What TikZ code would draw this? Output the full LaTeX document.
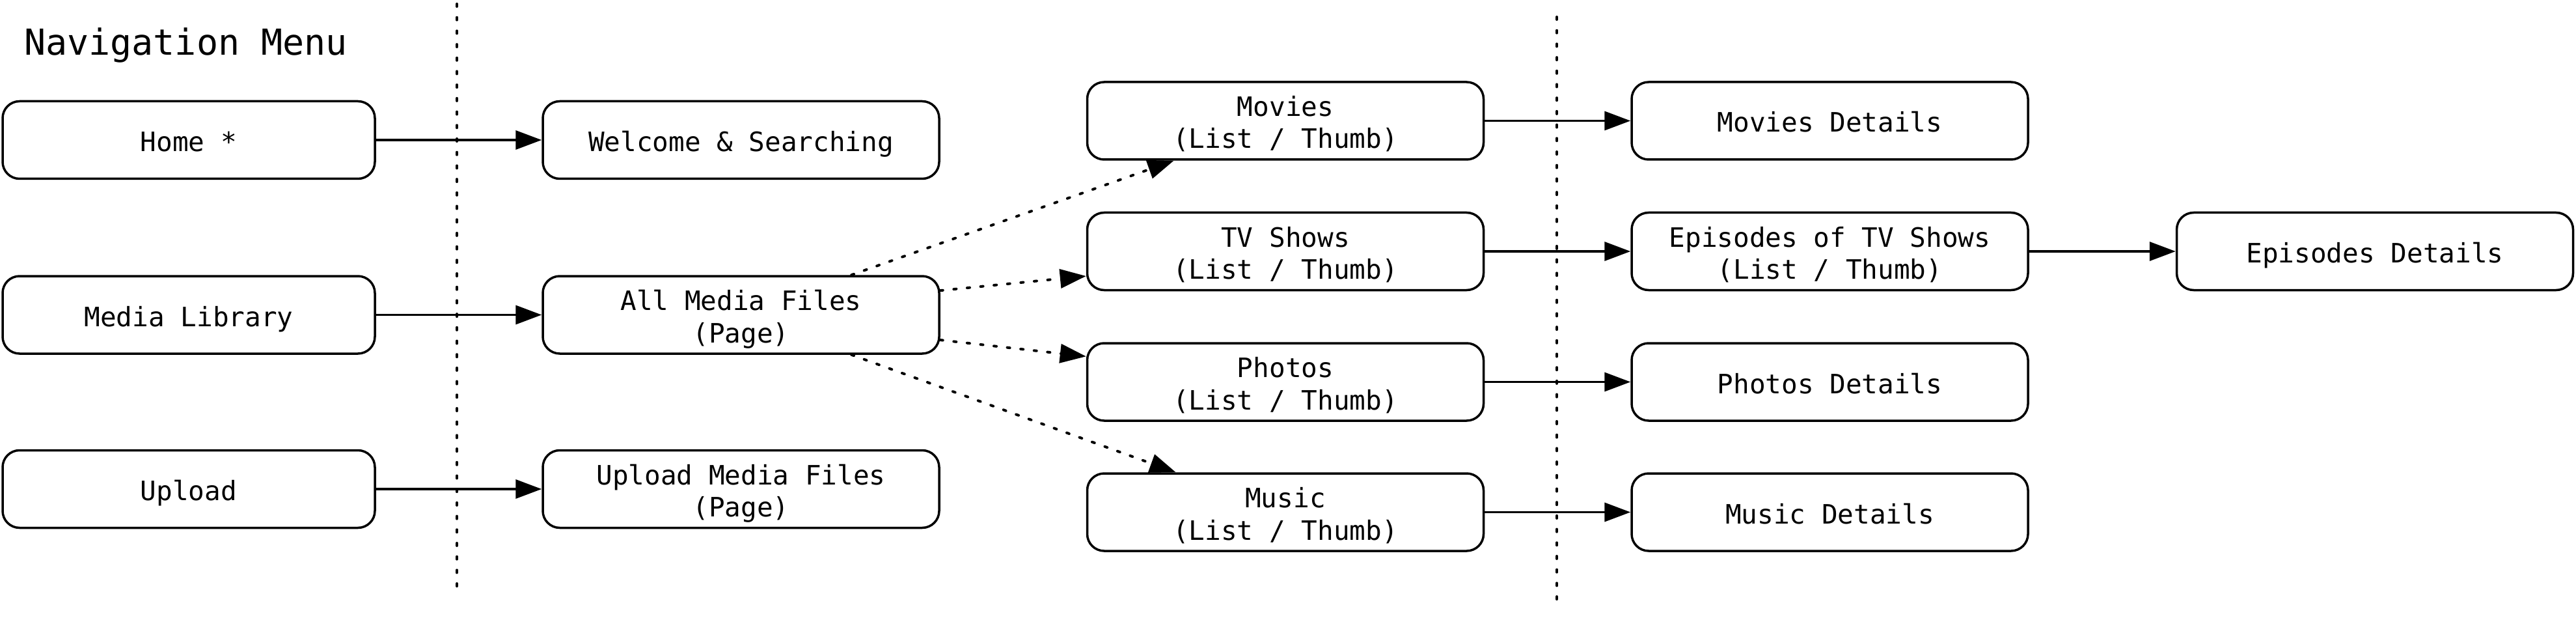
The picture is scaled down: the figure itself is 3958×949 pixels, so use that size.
\documentclass[tikz,border=0pt]{standalone}
\usepackage{fontspec}
\newfontfamily\dvm{DejaVu Sans Mono}
\usetikzlibrary{arrows.meta,calc}
\begin{document}
\begin{tikzpicture}[x=1pt,y=-1pt,
  pagebox/.style={draw, line width=3.5pt, rounded corners=26pt, minimum height=119pt,
    inner sep=0pt, align=center, font=\dvm\fontsize{41pt}{49.3pt}\selectfont,
    text height=40pt, text depth=5pt},
  twoline/.style={text height=90pt, text depth=5pt},
  colA/.style={pagebox, minimum width=572pt},
  colB/.style={pagebox, minimum width=609pt},
  conn/.style={line width=3.5pt, -{Triangle[length=40pt,width=29pt]}},
  dconn/.style={line width=4pt, line cap=round, dash pattern=on 4pt off 16.7pt,
    -{Triangle[length=40pt,width=29pt]}},
  sepline/.style={line width=4pt, line cap=round, dash pattern=on 4pt off 16.7pt}]
\useasboundingbox (0,0) rectangle (3958,949);

\node[anchor=base west, inner sep=0pt, font=\dvm\fontsize{55pt}{66pt}\selectfont] (title) at (37,85) {Navigation Menu};

\coordinate (s1top) at (702,6);
\coordinate (s1bot) at (702,908);
\coordinate (s2top) at (2392,26);
\coordinate (s2bot) at (2392,928);
\draw[sepline] (s1top) -- (s1bot);
\draw[sepline] (s2top) -- (s2bot);

\node[colA] (home) at (290,215) {Home *};
\node[colA] (medialib) at (290,483.5) {Media Library};
\node[colA] (upload) at (290,751) {Upload};

\node[colB] (welcome) at (1138.5,215) {Welcome \& Searching};
\node[colB, twoline] (allmedia) at (1138.5,483.5) {All Media Files\\(Page)};
\node[colB, twoline] (uploadmf) at (1138.5,751) {Upload Media Files\\(Page)};

\node[colB, twoline] (movies) at (1975,185.5) {Movies\\(List / Thumb)};
\node[colB, twoline] (tv) at (1975,386) {TV Shows\\(List / Thumb)};
\node[colB, twoline] (photos) at (1975,586.5) {Photos\\(List / Thumb)};
\node[colB, twoline] (music) at (1975,786.5) {Music\\(List / Thumb)};

\node[colB] (moviesd) at (2811.5,185.5) {Movies Details};
\node[colB, twoline] (episodes) at (2811.5,386) {Episodes of TV Shows\\(List / Thumb)};
\node[colB] (photosd) at (2811.5,586.5) {Photos Details};
\node[colB] (musicd) at (2811.5,786.5) {Music Details};

\node[colB] (episodesd) at (3649,386) {Episodes Details};

\draw[conn] (home) -- (welcome);
\draw[conn] (medialib) -- (allmedia);
\draw[conn] (upload) -- (uploadmf);

\draw[conn] (movies) -- (moviesd);
\draw[conn] (tv) -- (episodes);
\draw[conn] (photos) -- (photosd);
\draw[conn] (music) -- (musicd);
\draw[conn] (episodes) -- (episodesd);

\draw[dconn] ($(allmedia.north west)!0.777!(allmedia.north east)$) -- ($(movies.south west)!0.22!(movies.south east)$);
\draw[dconn] ($(allmedia.north east)!0.195!(allmedia.south east)$) -- ($(tv.north west)!0.81!(tv.south west)$);
\draw[dconn] ($(allmedia.north east)!0.815!(allmedia.south east)$) -- ($(photos.north west)!0.18!(photos.south west)$);
\draw[dconn] ($(allmedia.south west)!0.777!(allmedia.south east)$) -- ($(music.north west)!0.225!(music.north east)$);
\end{tikzpicture}
\end{document}
